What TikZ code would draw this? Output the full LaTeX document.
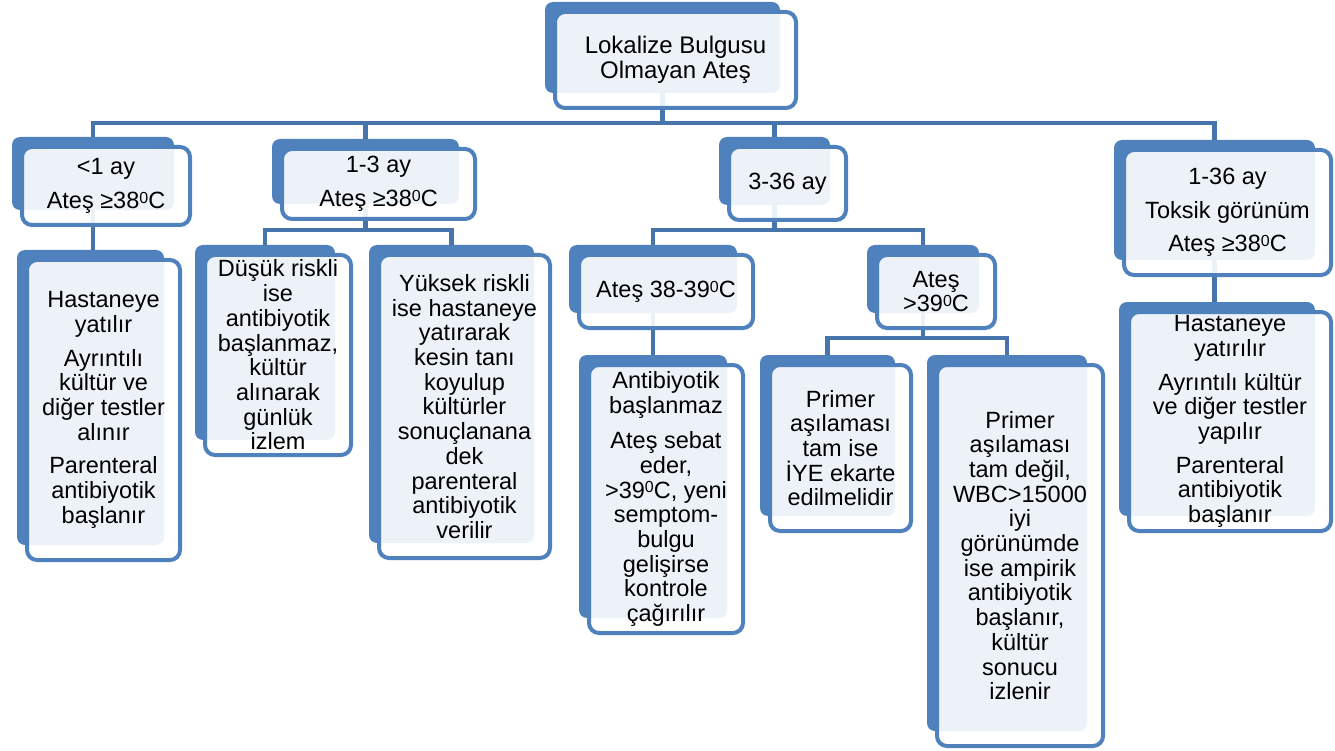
\documentclass[tikz,border=0pt]{standalone}
\usepackage{fontspec}
\setmainfont{Liberation Sans}
\usetikzlibrary{calc}
\definecolor{acc}{HTML}{4F81BD}
\definecolor{conc}{HTML}{4674AB}
\pgfdeclarelayer{backl}
\pgfdeclarelayer{connl}
\pgfsetlayers{backl,connl,main}
\newcommand{\supz}{\raisebox{5.2pt}{\fontsize{16}{16}\selectfont 0}}
\tikzset{
  frontbox/.style={draw=acc, line width=4pt, fill=white, fill opacity=0.9, text opacity=1,
    rounded corners=10pt, inner sep=0pt, outer sep=0pt, align=center,
    font=\fontsize{23.5}{24.7}\selectfont},
  backbox/.style={fill=acc, draw=none, rounded corners=8pt, inner sep=0pt, outer sep=0pt},
  conn/.style={draw=conc, line width=4.5pt}
}
% name, x0, y0, x1, y1 (outer edges of front frame, pixels), text
\newcommand{\mkbox}[6]{%
  \begin{pgfonlayer}{backl}
    \node[backbox, minimum width={#4-#2-10}, minimum height={#5-#3-9}] (#1-k)
      at ({(#2+#4)/2-13},{(#3+#5)/2-12.5}) {};
  \end{pgfonlayer}
  \node[frontbox, minimum width={#4-#2-4}, minimum height={#5-#3-4}] (#1)
    at ({(#2+#4)/2},{(#3+#5)/2}) {#6};
}
\begin{document}
\begin{tikzpicture}[x=1pt,y=-1pt]
\useasboundingbox (0,0) rectangle (1335,751);
\mkbox{n0}{553}{10}{798}{110}{\fontsize{24}{25}\selectfont Lokalize Bulgusu\\\fontsize{24}{25}\selectfont Olmayan Ateş}
\mkbox{nA}{20}{145}{192}{227}{<1 ay\\[9pt]Ateş ≥38\supz C}
\mkbox{nB}{280}{147}{477}{221}{1-3 ay\\[9pt]Ateş ≥38\supz C}
\mkbox{nC}{727}{145}{848}{222}{3-36 ay}
\mkbox{nD}{1122}{148}{1333}{277}{1-36 ay\\[9pt]Toksik görünüm\\[9pt]Ateş ≥38\supz C}
\mkbox{nA1}{25}{258}{182}{562}{Hastaneye\\yatılır\\[9pt]Ayrıntılı\\kültür ve\\diğer testler\\alınır\\[9pt]Parenteral\\antibiyotik\\başlanır}
\mkbox{nB1}{203}{253}{353}{457}{Düşük riskli\\ise\\antibiyotik\\başlanmaz,\\kültür\\alınarak\\günlük\\izlem}
\mkbox{nB2}{377}{253}{552}{560}{Yüksek riskli\\ise hastaneye\\yatırarak\\kesin tanı\\koyulup\\kültürler\\sonuçlanana\\dek\\parenteral\\antibiyotik\\verilir}
\mkbox{nC1}{577}{253}{755}{330}{Ateş 38-39\supz C}
\mkbox{nC2}{875}{253}{997}{330}{Ateş\\>39\supz C}
\mkbox{nC1a}{587}{363}{745}{635}{Antibiyotik\\başlanmaz\\[11pt]Ateş sebat\\eder,\\>39\supz C, yeni\\semptom-\\bulgu\\gelişirse\\kontrole\\çağırılır}
\mkbox{nC2a}{768}{363}{913}{533}{Primer\\aşılaması\\tam ise\\İYE ekarte\\edilmelidir}
\mkbox{nC2b}{935}{363}{1105}{748}{Primer\\aşılaması\\tam değil,\\WBC>15000\\iyi\\görünümde\\ise ampirik\\antibiyotik\\başlanır,\\kültür\\sonucu\\izlenir}
\mkbox{nD1}{1127}{310}{1333}{533}{Hastaneye\\yatırılır\\[9pt]Ayrıntılı kültür\\ve diğer testler\\yapılır\\[9pt]Parenteral\\antibiyotik\\başlanır}
\coordinate (h1) at (0,123);
\coordinate (hB) at (0,230);
\coordinate (hC) at (0,230);
\coordinate (hC2) at (0,338);
\begin{pgfonlayer}{connl}
\foreach \c in {nA,nB,nC,nD}{
  \draw[conn] (n0-k.south) -- (n0-k.south |- h1) -| (\c-k.north);
}
\draw[conn] (nA-k.south) -- (nA-k.south |- nA1-k.north);
\foreach \c in {nB1,nB2}{
  \draw[conn] (nB-k.south) -- (nB-k.south |- hB) -| (\c-k.north);
}
\foreach \c in {nC1,nC2}{
  \draw[conn] (nC-k.south) -- (nC-k.south |- hC) -| (\c-k.north);
}
\draw[conn] (nC1-k.south) -- (nC1-k.south |- nC1a-k.north);
\foreach \c in {nC2a,nC2b}{
  \draw[conn] (nC2-k.south) -- (nC2-k.south |- hC2) -| (\c-k.north);
}
\draw[conn] (nD-k.south) -- (nD-k.south |- nD1-k.north);
\end{pgfonlayer}
\end{tikzpicture}
\end{document}
